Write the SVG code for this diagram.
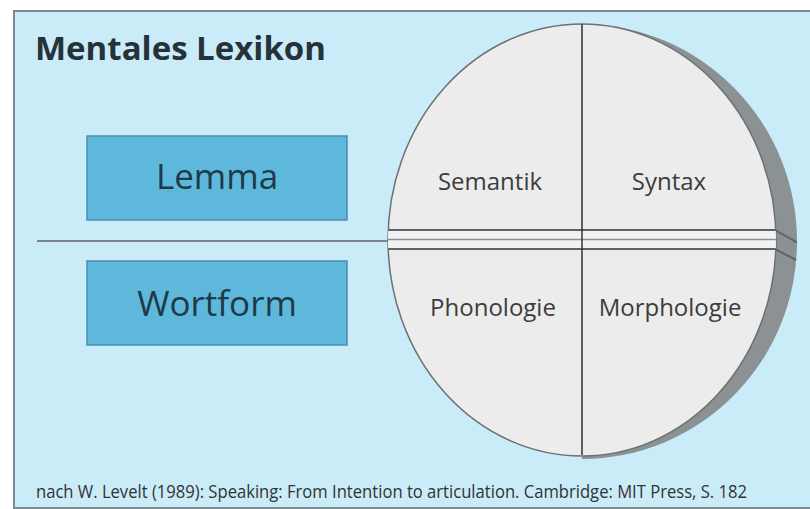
<svg xmlns="http://www.w3.org/2000/svg" width="810" height="509" viewBox="0 0 810 509">
<style>
.box{fill:#5db8dc;stroke:#4a8fb0;stroke-width:1.5}
.lbl{font-family:"Open Sans","Noto Sans",sans-serif;fill:#1f3a48;text-anchor:middle;font-weight:500}
.q{font-family:"Open Sans","Noto Sans",sans-serif;fill:#3c3c3c;font-size:24px;text-anchor:middle;font-weight:500}
.ln{stroke:#5a6468;fill:none}
</style>
<defs>
<clipPath id="cc"><ellipse cx="582" cy="240" rx="194" ry="216"/></clipPath>
<clipPath id="cs"><path d="M582,24 A215,217.5 0 0 1 582,459 Z"/></clipPath>
</defs>
<rect width="810" height="509" fill="#fff"/>
<rect x="14" y="11" width="800" height="497" fill="#c9ecf8" stroke="#7d8c92" stroke-width="2"/>
<text x="35" y="60" font-family="'Open Sans','Noto Sans',sans-serif" font-weight="bold" font-size="33" fill="#263238">Mentales Lexikon</text>
<g id="connectors">
<line class="ln" x1="37" y1="241" x2="390" y2="241" stroke-width="1.5"/>
</g>
<g id="lemma">
<rect class="box" x="87" y="136" width="260" height="84"/>
<text class="lbl" x="217" y="189" font-size="35">Lemma</text>
</g>
<g id="wortform">
<rect class="box" x="87" y="261" width="260" height="84"/>
<text class="lbl" x="217" y="316" font-size="35">Wortform</text>
</g>
<g id="circle">
<path d="M582,24 A215,217.5 0 0 1 582,459 Z" fill="#8c9294"/>
<g clip-path="url(#cs)">
<line class="ln" x1="775" y1="230" x2="800" y2="244" stroke-width="2"/>
<line class="ln" x1="775" y1="249" x2="800" y2="262" stroke-width="2"/>
</g>
<ellipse cx="582" cy="240" rx="194" ry="216" fill="#ececec" stroke="#6a7074" stroke-width="1.5"/>
<g clip-path="url(#cc)">
<rect x="380" y="230" width="410" height="19" fill="#f2f2f2"/>
<line class="ln" x1="380" y1="230" x2="790" y2="230" stroke-width="2"/>
<line x1="380" y1="239.5" x2="790" y2="239.5" stroke="#8a9094" stroke-width="1.5"/>
<line class="ln" x1="380" y1="249" x2="790" y2="249" stroke-width="2"/>
</g>
<line x1="582" y1="24" x2="582" y2="455" stroke="#333" stroke-width="1.5"/>
</g>
<g id="semantik"><text class="q" x="490" y="190">Semantik</text></g>
<g id="syntax"><text class="q" x="669" y="190">Syntax</text></g>
<g id="phonologie"><text class="q" x="493" y="316">Phonologie</text></g>
<g id="morphologie"><text class="q" x="670" y="316">Morphologie</text></g>
<text x="36" y="498" font-family="'Open Sans','Noto Sans',sans-serif" font-size="18" font-weight="500" fill="#333" textLength="711" lengthAdjust="spacingAndGlyphs">nach W. Levelt (1989): Speaking: From Intention to articulation. Cambridge: MIT Press, S. 182</text>
</svg>
